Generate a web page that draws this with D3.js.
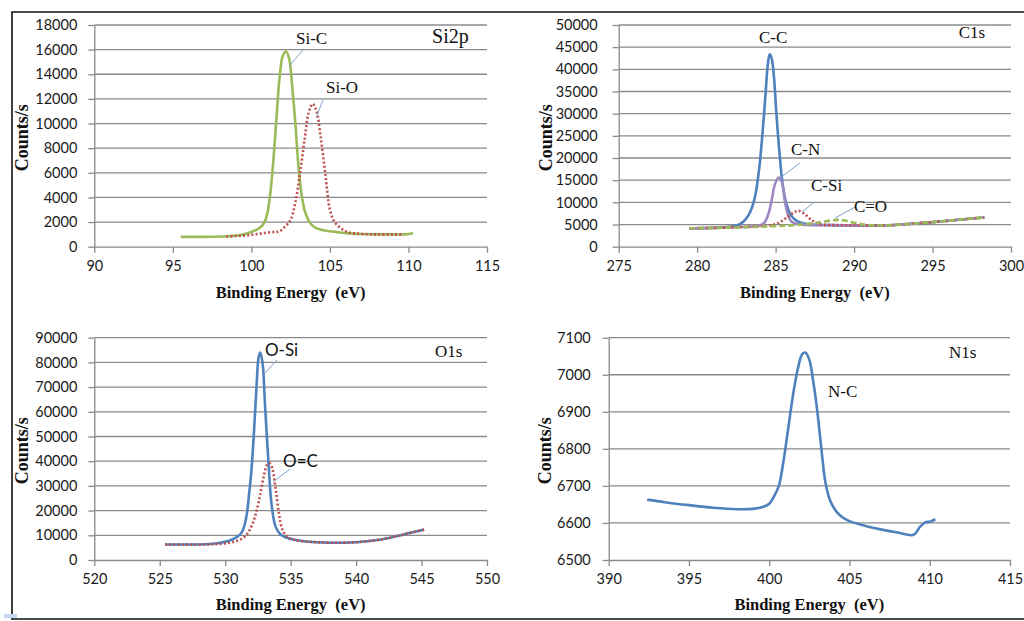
<!DOCTYPE html>
<html>
<head>
<meta charset="utf-8">
<script src="https://cdn.jsdelivr.net/npm/d3@7"></script>
<style>
  body { margin: 0; background: #fff; }
  svg { display: block; }
  .tick text { font-family: Lato, "Open Sans", sans-serif; font-size: 14.5px; fill: #1a1a1a; }
  .axis-title { font-family: "Liberation Serif", "DejaVu Serif", serif; font-weight: bold; font-size: 16.5px; fill: #111; white-space: pre; }
  .y-title { font-size: 18px; }
  .note { font-family: "Liberation Serif", "DejaVu Serif", serif; font-size: 17px; fill: #111; }
  .note.sans { font-family: Lato, "Open Sans", sans-serif; }
</style>
</head>
<body>
<script>
// ---- data ----
var si2pXTicks = [90, 95, 100, 105, 110, 115];
var si2pYTicks = [0, 2000, 4000, 6000, 8000, 10000, 12000, 14000, 16000, 18000];
var si2pSiC = [[95.5,800],[96.5,800],[97.5,810],[98.5,850],[99.3,950],[100,1200],[100.5,1500],[100.8,1900],[101.0,2600],[101.2,4300],[101.4,7000],[101.6,10500],[101.8,13800],[102.0,15500],[102.2,15850],[102.4,15300],[102.6,13000],[102.8,10000],[103.0,6500],[103.2,4200],[103.4,2900],[103.7,2000],[104.0,1600],[104.5,1350],[105,1250],[106,1100],[107,1030],[108,1000],[109,1000],[109.8,1000],[110.3,1100]];
var si2pSiO = [[98.4,830],[99,860],[99.5,900],[100,960],[100.5,1050],[101,1150],[101.5,1200],[101.8,1250],[102.2,1700],[102.5,2200],[102.8,3600],[103.1,6000],[103.4,8800],[103.65,10900],[103.9,11600],[104.15,11000],[104.4,9000],[104.7,6000],[105,3000],[105.3,2000],[105.7,1500],[106.1,1200],[106.6,1080],[107.3,1020],[108,1000],[109,1000],[109.7,1000]];

var c1sXTicks = [275, 280, 285, 290, 295, 300];
var c1sYTicks = [0, 5000, 10000, 15000, 20000, 25000, 30000, 35000, 40000, 45000, 50000];
var c1sCC = [[279.5,4150],[280.5,4200],[281.5,4300],[282.2,4550],[282.7,5000],[283.1,6200],[283.4,8000],[283.7,11500],[283.95,17500],[284.15,25000],[284.35,34000],[284.5,41000],[284.62,43400],[284.75,42500],[284.9,38000],[285.05,30000],[285.25,21000],[285.45,14000],[285.7,9500],[286.0,7000],[286.4,5700],[287,5100],[288,4900],[289,4850],[290,4800],[291,4750],[292,4800],[293,5000],[294,5250],[295,5550],[296,5850],[297,6200],[298.3,6600]];
var c1sCN = [[279.5,4150],[280.5,4200],[281.5,4280],[282.5,4400],[283.5,4550],[284.0,4800],[284.3,5500],[284.55,7500],[284.75,10500],[284.95,14000],[285.2,15600],[285.4,14500],[285.6,10000],[285.8,7000],[286.0,5700],[286.4,5100],[287,4900],[288,4850],[289,4820],[290,4800],[291,4750],[292,4800],[293,5000],[294,5250],[295,5550],[296,5850],[297,6200],[298.3,6600]];
var c1sCSi = [[279.5,4150],[281,4250],[282.5,4400],[284,4600],[284.8,4900],[285.3,5600],[285.8,6800],[286.2,7800],[286.45,8100],[286.8,7500],[287.3,6000],[287.8,5100],[288.5,4900],[289.5,4850],[290.5,4800],[291,4750],[292,4800],[293,5000],[294,5250],[295,5550],[296,5850],[297,6200],[298.3,6600]];
var c1sCO = [[279.5,4150],[281,4250],[282.5,4350],[284,4500],[285,4650],[286,4800],[287,5100],[287.8,5500],[288.5,5900],[288.9,6050],[289.4,5900],[290,5400],[290.6,5000],[291.3,4800],[292,4800],[293,5000],[294,5250],[295,5550],[296,5850],[297,6200],[298.3,6600]];

var o1sXTicks = [520, 525, 530, 535, 540, 545, 550];
var o1sYTicks = [0, 10000, 20000, 30000, 40000, 50000, 60000, 70000, 80000, 90000];
var o1sOSi = [[525.4,6300],[527,6300],[528.5,6400],[529.5,6900],[530.3,7800],[530.9,9300],[531.3,11500],[531.6,17000],[531.85,28000],[532.0,36000],[532.2,52000],[532.4,71000],[532.55,82000],[532.68,84000],[532.85,80000],[533.05,62000],[533.3,40000],[533.55,22000],[533.85,13500],[534.2,10500],[534.6,9200],[535.2,8300],[536,7600],[537,7200],[538,7000],[539,7000],[540,7200],[541,7700],[542,8400],[543,9500],[544,10800],[545.2,12300]];
var o1sOC = [[525.4,6300],[527,6300],[528.5,6300],[529.5,6500],[530.3,7000],[531,7900],[531.5,9500],[531.9,12500],[532.3,18000],[532.65,26000],[532.95,34000],[533.2,38500],[533.4,39200],[533.6,37000],[533.85,29000],[534.1,19000],[534.35,12500],[534.7,9500],[535.2,8300],[536,7600],[537,7200],[538,7000],[539,7000],[540,7200],[541,7700],[542,8400],[543,9500],[544,10800],[545.2,12300]];

var n1sXTicks = [390, 395, 400, 405, 410, 415];
var n1sYTicks = [6500, 6600, 6700, 6800, 6900, 7000, 7100];
var n1sNC = [[392.4,6663],[393.5,6656],[395,6648],[396.5,6641],[398,6637],[399,6638],[399.6,6643],[400,6652],[400.3,6672],[400.6,6700],[400.9,6770],[401.2,6860],[401.5,6950],[401.8,7020],[402.05,7055],[402.25,7060],[402.5,7040],[402.75,6980],[403.0,6900],[403.25,6800],[403.5,6710],[403.8,6660],[404.2,6630],[404.6,6614],[405,6605],[406,6592],[407,6582],[408,6574],[409,6568],[409.4,6590],[409.7,6601],[410.05,6604],[410.35,6610]];

var blue = "#4f81bd", red = "#c0504d", green = "#9bbb59", purple = "#9d88c2", leader = "#7ea2cc";

var panels = [
  { x0: 94.3, x1: 487, y0: 246.7, y1: 25, xDom: [90, 115], yDom: [0, 18000], xTicks: si2pXTicks, yTicks: si2pYTicks, pad: 11, titleX: 28, titleY: 298,
    series: [{ d: si2pSiC, c: green }, { d: si2pSiO, c: red, dash: "2 2.2" }],
    notes: [{ t: "Si2p", at: [111.5, 16539], size: 20 },
            { t: "Si-C", at: [102.84, 16458], line: [[103.29, 15970], [102.46, 14752]] },
            { t: "Si-O", at: [104.75, 12479], line: [[104.56, 11911], [104.11, 10450]] }] },
  { x0: 618.7, x1: 1011, y0: 246.7, y1: 25, xDom: [275, 300], yDom: [0, 50000], xTicks: c1sXTicks, yTicks: c1sYTicks, pad: 15, titleX: 552, titleY: 298,
    series: [{ d: c1sCC, c: blue }, { d: c1sCN, c: purple }, { d: c1sCSi, c: red, dash: "2 2.2" }, { d: c1sCO, c: green, dash: "6 3" }],
    notes: [{ t: "C1s", at: [296.67, 47068] },
            { t: "C-C", at: [283.94, 45940] },
            { t: "C-N", at: [285.98, 20681], line: [[286.55, 18877], [285.28, 15494]] },
            { t: "C-Si", at: [287.25, 12562], line: [[287.38, 9856], [286.68, 7826]] },
            { t: "C=O", at: [289.99, 7758], line: [[290.06, 8953], [288.79, 6472]] }] },
  { x0: 94.3, x1: 487, y0: 560, y1: 337.7, xDom: [520, 550], yDom: [0, 90000], xTicks: o1sXTicks, yTicks: o1sYTicks, pad: 11, titleX: 28, titleY: 610,
    series: [{ d: o1sOSi, c: blue }, { d: o1sOC, c: red, dash: "2 2.2" }],
    notes: [{ t: "O1s", at: [546.03, 82187] },
            { t: "O-Si", at: [533.04, 82591], sans: true, line: [[533.96, 80972], [533.04, 75709]] },
            { t: "O=C", at: [534.42, 37652], sans: true, line: [[534.95, 36842], [533.65, 31579]] }] },
  { x0: 608.7, x1: 1010, y0: 560, y1: 337.7, xDom: [390, 415], yDom: [6500, 7100], xTicks: n1sXTicks, yTicks: n1sYTicks, pad: 12, titleX: 551, titleY: 610,
    series: [{ d: n1sNC, c: blue }],
    notes: [{ t: "N1s", at: [411.2, 7045] },
            { t: "N-C", at: [403.66, 6940] }] }
];

var svg = d3.select("body").append("svg").attr("width", 1024).attr("height", 621);

// outer frame
svg.append("path").attr("d", "M1024,12H12V619H1024").attr("fill", "none").attr("stroke", "#111").attr("stroke-width", 1.6);
svg.append("rect").attr("x", 4).attr("y", 614).attr("width", 13).attr("height", 4).attr("fill", "#c6d9f0");

panels.forEach(function(p) {
  var x = d3.scaleLinear().domain(p.xDom).range([p.x0, p.x1]);
  var y = d3.scaleLinear().domain(p.yDom).range([p.y0, p.y1]);
  var g = svg.append("g");

  // gridlines
  g.selectAll("line.grid").data(p.yTicks.slice(1)).join("line")
    .attr("x1", p.x0).attr("x2", p.x1)
    .attr("y1", function(d) { return y(d); }).attr("y2", function(d) { return y(d); })
    .attr("stroke", "#8a8a8a").attr("stroke-width", 1.3);

  var ya = g.append("g").attr("transform", "translate(" + p.x0 + ",0)")
    .call(d3.axisLeft(y).tickValues(p.yTicks).tickSize(6).tickSizeOuter(0).tickPadding(p.pad).tickFormat(d3.format("d")));
  var xa = g.append("g").attr("transform", "translate(0," + p.y0 + ")")
    .call(d3.axisBottom(x).tickValues(p.xTicks).tickSize(6).tickSizeOuter(0).tickPadding(8).tickFormat(d3.format("d")));
  [ya, xa].forEach(function(a) {
    a.select(".domain").attr("stroke", "#8a8a8a").attr("stroke-width", 1.3);
    a.selectAll(".tick line").attr("stroke", "#8a8a8a").attr("stroke-width", 1.3);
    a.selectAll(".tick text").attr("fill", null);
  });

  var line = d3.line().x(function(d) { return x(d[0]); }).y(function(d) { return y(d[1]); }).curve(d3.curveCatmullRom.alpha(0.5));
  p.series.forEach(function(s) {
    g.append("path").attr("d", line(s.d)).attr("fill", "none")
      .attr("stroke", s.c).attr("stroke-width", 2.6)
      .attr("stroke-dasharray", s.dash || null)
      .attr("stroke-linejoin", "round");
  });

  p.notes.forEach(function(n) {
    if (n.line) {
      g.append("line")
        .attr("x1", x(n.line[0][0])).attr("y1", y(n.line[0][1]))
        .attr("x2", x(n.line[1][0])).attr("y2", y(n.line[1][1]))
        .attr("stroke", leader).attr("stroke-width", 1);
    }
    g.append("text").attr("class", n.sans ? "note sans" : "note")
      .attr("x", x(n.at[0])).attr("y", y(n.at[1]))
      .style("font-size", n.size ? n.size + "px" : null)
      .text(n.t);
  });

  g.append("text").attr("class", "axis-title")
    .attr("x", (p.x0 + p.x1) / 2).attr("y", p.titleY).attr("text-anchor", "middle")
    .text("Binding Energy  (eV)");
  g.append("text").attr("class", "axis-title y-title")
    .attr("transform", "translate(" + p.titleX + "," + ((p.y0 + p.y1) / 2 + 2) + ") rotate(-90)")
    .attr("text-anchor", "middle")
    .text("Counts/s");
});
</script>
</body>
</html>
